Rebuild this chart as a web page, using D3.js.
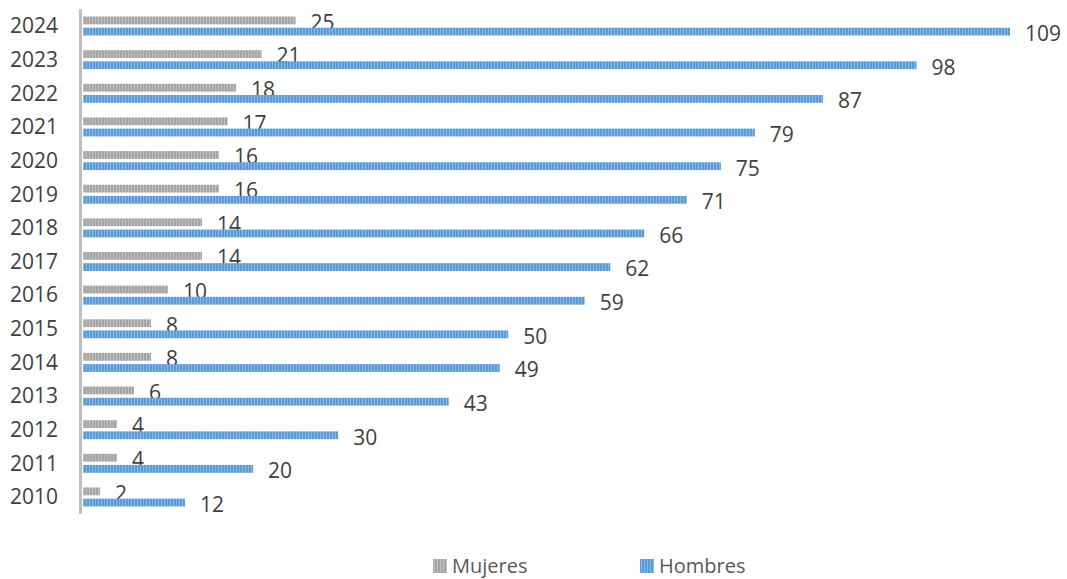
<!DOCTYPE html>
<html><head><meta charset="utf-8">
<script src="https://cdn.jsdelivr.net/npm/d3@7"></script>
<style>html,body{margin:0;padding:0;background:#fff;}svg{display:block;}</style>
</head><body>
<svg id="c" width="1067" height="579"></svg>
<script>
const years = ["2024","2023","2022","2021","2020","2019","2018","2017","2016","2015","2014","2013","2012","2011","2010"];
const mujeres = [25,21,18,17,16,16,14,14,10,8,8,6,4,4,2];
const hombres = [109,98,87,79,75,71,66,62,59,50,49,43,30,20,12];
const seriesNames = ["Mujeres","Hombres"];
const seriesColors = ["#A5A5A5","#5B9BD5"];

const svg = d3.select("#c");
const defs = svg.append("defs");
seriesColors.forEach((c,i)=>{
  const p = defs.append("pattern").attr("id","pat"+i).attr("patternUnits","userSpaceOnUse")
    .attr("width",3).attr("height",4);
  p.append("rect").attr("width",3).attr("height",4).attr("fill",c);
  p.append("rect").attr("x",2).attr("width",1).attr("height",4).attr("fill","#fff").attr("opacity",0.3);
});

const x = d3.scaleLinear().domain([0,109]).range([83,1010]);
const y = d3.scaleBand().domain(years).range([9.2,513.8]);
const bw = y.bandwidth();
const y1 = d3.scaleBand().domain(seriesNames).range([bw/2-9.5, bw/2+9.5]).paddingInner(0.3);

const font = "'Open Sans', 'Liberation Sans', sans-serif";

svg.append("line").attr("x1",80.5).attr("x2",80.5).attr("y1",y.range()[0]).attr("y2",y.range()[1])
  .attr("stroke","#BFBFBF").attr("stroke-width",3);

svg.append("g").selectAll("text").data(years).join("text")
  .attr("x",58).attr("y",d=>y(d)+bw/2).attr("dy","0.35em")
  .attr("text-anchor","end").attr("font-family",font).attr("font-size",21).attr("fill","#404040")
  .text(d=>d);

const data = [mujeres, hombres];
data.forEach((vals,si)=>{
  const g = svg.append("g");
  g.selectAll("rect").data(vals).join("rect")
    .attr("x",x(0)).attr("y",(d,i)=>y(years[i])+y1(seriesNames[si]))
    .attr("width",d=>x(d)-x(0)).attr("height",y1.bandwidth())
    .attr("fill","url(#pat"+si+")");
  g.selectAll("text").data(vals).join("text")
    .attr("x",d=>x(d)+15).attr("y",(d,i)=>y(years[i])+y1(seriesNames[si])+y1.bandwidth()/2+2)
    .attr("dy","0.35em").attr("font-family",font).attr("font-size",21).attr("fill","#404040")
    .text(d=>d);
});

const legX = [433,640];
seriesNames.forEach((s,i)=>{
  svg.append("rect").attr("x",legX[i]).attr("y",559).attr("width",14).attr("height",14).attr("fill","url(#pat"+i+")");
  svg.append("text").attr("x",legX[i]+19).attr("y",566).attr("dy","0.35em")
    .attr("font-family",font).attr("font-size",20).attr("fill","#595959").text(s);
});
</script>
</body></html>
